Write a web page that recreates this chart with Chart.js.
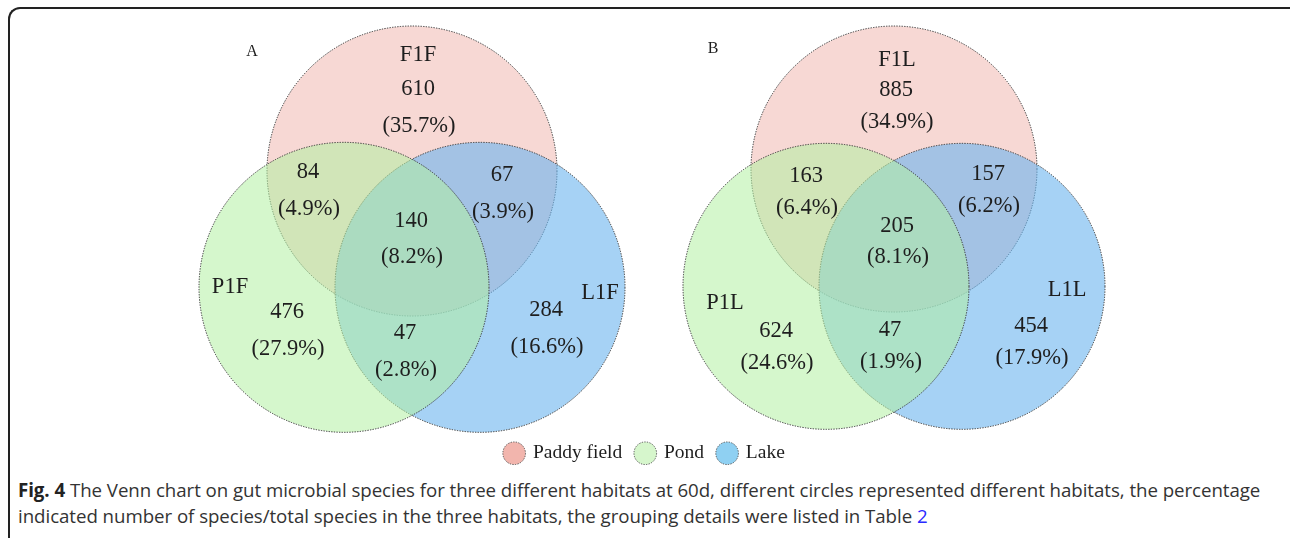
<!DOCTYPE html>
<html>
<head>
<meta charset="utf-8">
<script src="https://cdn.jsdelivr.net/npm/chart.js@4.4.1/dist/chart.umd.min.js"></script>
<style>
  html, body { margin: 0; padding: 0; background: #fff; overflow: hidden; }
  #frame {
    position: absolute; left: 8px; top: 7px; width: 1300px; height: 545px;
    border-top: 2px solid #222; border-left: 2px solid #222;
    border-top-left-radius: 12px;
  }
  #venn { position: absolute; left: 0; top: 0; }
  #caption {
    position: absolute; left: 18px; top: 477px; width: 1270px; white-space: nowrap;
    font-family: 'Open Sans', sans-serif; font-size: 18.7px; line-height: 26px;
    color: #333; letter-spacing: -0.05px;
  }
  #caption b { color: #222; }
  #caption .ref { color: #2a2aff; }
</style>
</head>
<body>
<div id="frame"></div>
<canvas id="venn" width="1290" height="473"></canvas>
<div id="caption"><b>Fig. 4</b> The Venn chart on gut microbial species for three different habitats at 60d, different circles represented different habitats, the percentage<br>indicated number of species/total species in the three habitats, the grouping details were listed in Table <span class="ref">2</span></div>
<script>
// Habitats (legend order) and the group names in each panel
const habitats = ['Paddy field', 'Pond', 'Lake'];
const panels = ['A', 'B'];
const groupsA = ['F1F', 'P1F', 'L1F'];
const groupsB = ['F1L', 'P1L', 'L1L'];

// Region order: F only, F∩P, F∩L, F∩P∩L, P only, P∩L, L only
const regionCountsA = [610, 84, 67, 140, 476, 47, 284];
const regionPctA = [35.7, 4.9, 3.9, 8.2, 27.9, 2.8, 16.6];
const regionCountsB = [885, 163, 157, 205, 624, 47, 454];
const regionPctB = [34.9, 6.4, 6.2, 8.1, 24.6, 1.9, 17.9];

// Circle geometry per panel (A, B), in plot units
const paddyCenters = [{ x: 412, y: 172 }, { x: 894, y: 170 }];
const pondCenters = [{ x: 344, y: 289 }, { x: 826, y: 288 }];
const lakeCenters = [{ x: 480, y: 289 }, { x: 962, y: 288 }];
const circleRadii = [145, 143];

// Where each region label sits (same order as the region arrays)
const regionPosA = [[418, 90], [308, 173], [502, 176], [411, 222], [287, 314], [405, 335], [546, 312]];
const regionPosB = [[896, 91], [806, 177], [988, 175], [897, 227], [776, 333], [890, 332], [1031, 328]];
const groupPosA = [[418, 55], [230, 289], [600, 295]];
const groupPosB = [[897, 60], [725, 305], [1067, 292]];
const panelPos = [[252, 52], [713, 49]];

const fills = ['rgba(239, 177, 169, 0.5)', 'rgba(178, 240, 162, 0.55)', 'rgba(107, 180, 238, 0.6)'];
const legendFills = ['#f2b5ad', '#d6f6cc', '#8fd0f2'];

const dotted = {
    id: 'dotted',
    beforeDatasetDraw(chart) { chart.ctx.setLineDash([1.3, 1.3]); },
    afterDatasetDraw(chart) { chart.ctx.setLineDash([]); },
};

const vennLabels = {
    id: 'vennLabels',
    afterDatasetsDraw(chart) {
        const { ctx, scales: { x, y } } = chart;
        const put = (text, px, py, size) => {
            ctx.font = size + 'px "Liberation Serif", "Times New Roman", serif';
            ctx.fillText(text, x.getPixelForValue(px), y.getPixelForValue(py));
        };
        ctx.save();
        ctx.fillStyle = '#1e1e1e';
        ctx.textAlign = 'center';
        ctx.textBaseline = 'middle';
        const sets = [
            [groupsA, groupPosA, regionCountsA, regionPctA, regionPosA],
            [groupsB, groupPosB, regionCountsB, regionPctB, regionPosB],
        ];
        sets.forEach(([groups, gPos, counts, pcts, rPos], p) => {
            put(panels[p], panelPos[p][0], panelPos[p][1], 16);
            groups.forEach((g, i) => put(g, gPos[i][0], gPos[i][1], 22.5));
            counts.forEach((c, i) => {
                const dy = p === 0 ? 37 : 32;
                put(String(c), rPos[i][0], rPos[i][1], 22.5);
                put('(' + pcts[i].toFixed(1) + '%)', rPos[i][0] + 1, rPos[i][1] + dy, 22.5);
            });
        });
        ctx.restore();
    },
};

// circle radius in pixels, taken from the x scale so it follows the data units
const circleRadius = (ctx) => {
    const s = ctx.chart.scales.x;
    return s.getPixelForValue(circleRadii[ctx.dataIndex]) - s.getPixelForValue(0);
};

const centers = [paddyCenters, pondCenters, lakeCenters];
// drawing order: paddy at the bottom, lake next, pond on top
const drawOrder = [3, 1, 2];

new Chart(document.getElementById('venn'), {
    type: 'scatter',
    data: {
        datasets: habitats.map((h, i) => ({
            label: h,
            data: centers[i],
            order: drawOrder[i],
            showLine: false,
            pointStyle: 'circle',
            pointBackgroundColor: fills[i],
            pointBorderColor: '#333',
            pointBorderWidth: 1,
            pointRadius: circleRadius,
            clip: false,
        })),
    },
    options: {
        responsive: false,
        animation: false,
        events: [],
        layout: { padding: 0 },
        scales: {
            x: { type: 'linear', display: false, min: 0, max: 1290 },
            y: { type: 'linear', display: false, min: 0, max: 432, reverse: true },
        },
        plugins: {
            tooltip: { enabled: false },
            legend: {
                position: 'bottom',
                labels: {
                    usePointStyle: true,
                    boxWidth: 18,
                    boxHeight: 16,
                    padding: 14,
                    color: '#1e1e1e',
                    font: { family: '"Liberation Serif", serif', size: 19.5 },
                    sort: (a, b) => a.datasetIndex - b.datasetIndex,
                    generateLabels(chart) {
                        const items = Chart.defaults.plugins.legend.labels.generateLabels(chart);
                        items.forEach(it => {
                            it.fillStyle = legendFills[it.datasetIndex];
                            it.strokeStyle = '#555';
                            it.lineWidth = 1;
                            it.lineDash = [1.3, 1.3];
                            it.pointStyle = 'circle';
                        });
                        return items;
                    },
                },
            },
        },
    },
    plugins: [dotted, vennLabels],
});
</script>
</body>
</html>
